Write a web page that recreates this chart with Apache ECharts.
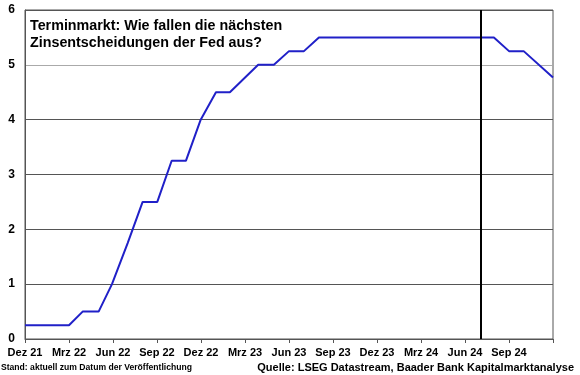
<!DOCTYPE html>
<html>
<head>
<meta charset="utf-8">
<script src="https://cdn.jsdelivr.net/npm/echarts@6/dist/echarts.min.js"></script>
<style>html,body{margin:0;padding:0;background:#fff}#c{width:580px;height:375px}</style>
</head>
<body>
<div id="c"></div>
<script>
// Months since Dec 2021 (0 = Dez 21)
var months = [0, 3, 3.93, 5.02, 5.93, 7, 8.02, 9.02, 10, 10.97, 11.98, 13.02, 13.97, 15.9, 16.97, 18, 19.02, 20.04, 31.97, 33, 34, 36];
var rates  = [0.25, 0.25, 0.5, 0.5, 1, 1.75, 2.5, 2.5, 3.25, 3.25, 4, 4.5, 4.5, 5, 5, 5.25, 5.25, 5.5, 5.5, 5.25, 5.25, 4.77];
var xTickLabels = ['Dez 21', 'Mrz 22', 'Jun 22', 'Sep 22', 'Dez 22', 'Mrz 23', 'Jun 23', 'Sep 23', 'Dez 23', 'Mrz 24', 'Jun 24', 'Sep 24', ''];
var yTickLabels = ['0', '1', '2', '3', '4', '5', '6'];
var todayMonth = 31.04;
var titleText = 'Terminmarkt: Wie fallen die nächsten\nZinsentscheidungen der Fed aus?';
var noteText = 'Stand: aktuell zum Datum der Veröffentlichung';
var sourceText = 'Quelle: LSEG Datastream, Baader Bank Kapitalmarktanalyse';

var data = months.map(function (m, i) { return [m, rates[i]]; });
var font = 'Liberation Sans, Arial, sans-serif';

var chart = echarts.init(document.getElementById('c'), null, {renderer: 'canvas'});
chart.setOption({
  animation: false,
  backgroundColor: '#fff',
  title: [
    {text: titleText, left: 25, top: 13,
     textStyle: {fontFamily: font, fontSize: 14.3, fontWeight: 'bold', color: '#000', lineHeight: 17}},
    {text: noteText, left: -4, top: 358,
     textStyle: {fontFamily: font, fontSize: 8.6, fontWeight: 'bold', color: '#000'}},
    {text: sourceText, right: 1, top: 357,
     textStyle: {fontFamily: font, fontSize: 11, fontWeight: 'bold', color: '#000'}}
  ],
  grid: {left: 25, right: 27, top: 10, bottom: 36, show: true, borderColor: '#555', borderWidth: 1},
  xAxis: {
    type: 'value', min: 0, max: 36, interval: 3,
    axisLine: {show: true, lineStyle: {color: '#555', width: 1}},
    axisTick: {show: true, length: 4, lineStyle: {color: '#555'}},
    splitLine: {show: false},
    axisLabel: {
      margin: 8, color: '#000', fontFamily: font, fontSize: 11, fontWeight: 'bold',
      formatter: function (v) { return xTickLabels[Math.round(v / 3)] || ''; }
    }
  },
  yAxis: {
    type: 'value', min: 0, max: 6, interval: 1,
    axisLine: {show: true, lineStyle: {color: '#555', width: 1}},
    axisTick: {show: false},
    splitLine: {show: true, lineStyle: {color: ['#555', '#555', '#555', '#555', '#555', '#aaa', '#555'], width: 1}},
    axisLabel: {
      margin: 10, color: '#000', fontFamily: font, fontSize: 12, fontWeight: 'bold',
      formatter: function (v) { return yTickLabels[Math.round(v)]; }
    }
  },
  series: [{
    type: 'line', data: data, showSymbol: false, symbol: 'none',
    lineStyle: {color: '#2020c8', width: 2},
    markLine: {
      silent: true, symbol: 'none', label: {show: false},
      lineStyle: {color: '#000', width: 2, type: 'solid'},
      data: [{xAxis: todayMonth}]
    }
  }]
});
</script>
</body>
</html>
